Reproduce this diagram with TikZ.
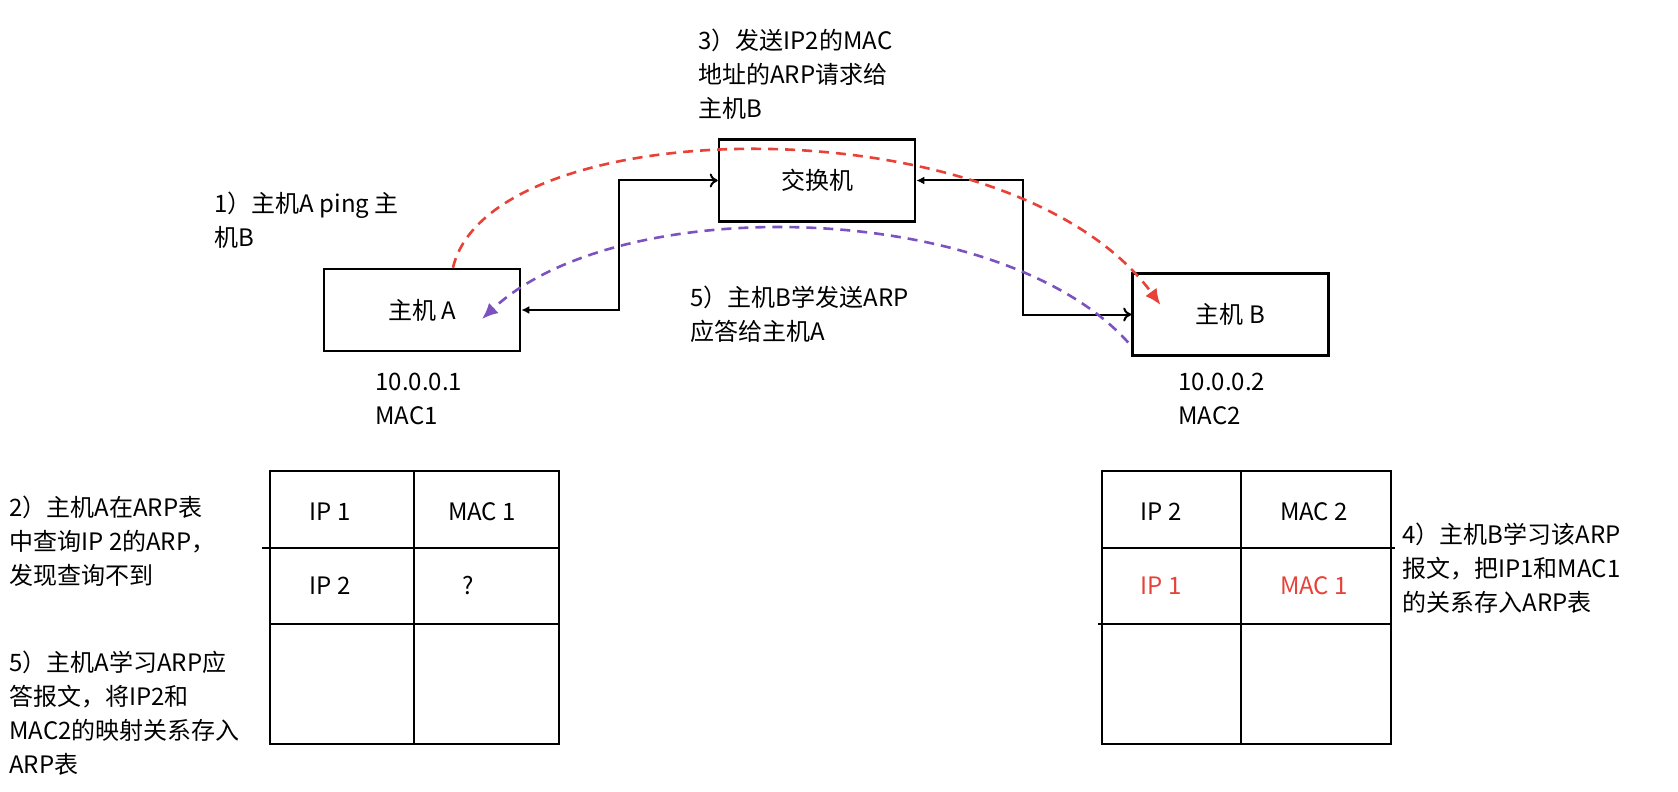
\documentclass[tikz,border=0pt]{standalone}
\usepackage{fontspec}
\setmainfont{Noto Sans CJK SC}
\usetikzlibrary{arrows.meta,positioning}
\definecolor{reqred}{RGB}{232,66,56}
\definecolor{replypurple}{RGB}{124,82,192}

\begin{document}
\begin{tikzpicture}[x=0.5pt,y=-0.5pt,
    host/.style={draw, line width=1.3pt, minimum width=98pt, minimum height=41pt, inner sep=0pt, font=\fontsize{12}{14}\selectfont},
    note/.style={anchor=north west, align=left, inner sep=0pt, font=\fontsize{12}{17}\selectfont},
    cell/.style={font=\fontsize{12}{14}\selectfont},
    tbl/.style={line width=1.2pt},
    link/.style={line width=1pt},
    msg/.style={line width=1.3pt, dash pattern=on 5pt off 3.5pt}]
    \useasboundingbox (0,0) rectangle (1678,792);

    % hosts and switch
    \node[host] (sw) at (817,180.5) {交换机};
    \node[host] (hostA) at (422,310) {主机 A};
    \node[host] (hostB) at (1230.5,314.5) {主机 B};

    % notes
    \node[note] (step3) at (698,29) {3）发送IP2的MAC\\地址的ARP请求给\\主机B};
    \node[note] (step1) at (214,192) {1）主机A ping 主\\机B};
    \node[note] (step5b) at (690,286) {5）主机B学发送ARP\\应答给主机A};
    \node[note] (addrA) at (375,373) {10.0.0.1\\MAC1};
    \node[note] (addrB) at (1178,373) {10.0.0.2\\MAC2};
    \node[note] (step2) at (9,496) {2）主机A在ARP表\\中查询IP 2的ARP，\\发现查询不到};
    \node[note] (step5a) at (9,651) {5）主机A学习ARP应\\答报文，将IP2和\\MAC2的映射关系存入\\ARP表};
    \node[note] (step4) at (1402,523) {4）主机B学习该ARP\\报文，把IP1和MAC1\\的关系存入ARP表};

    % wires
    \draw[link, {Latex[length=4pt,width=4pt]}-{To[length=4pt,width=7pt]}] (hostA.east) -- ++(98,0) |- (sw.west);
    \draw[link, {Latex[length=4pt,width=4pt]}-{To[length=4pt,width=7pt]}] (sw.east) -- ++(107,0) |- (hostB.west);

    % ARP request and reply
    \draw[msg, reqred, -{Latex[length=8pt,width=7pt]}] ([xshift=15.5pt]hostA.north) .. controls (490,110) and (1010,100) .. ([xshift=-35pt,yshift=4.75pt]hostB.center);
    \draw[msg, replypurple, -{Latex[length=8pt,width=7pt]}] ([xshift=-1.5pt,yshift=-14pt]hostB.west) .. controls (1000,200) and (620,190) .. ([xshift=30pt,yshift=-4.5pt]hostA.center);

    % ARP table of host A
    \draw[tbl] (270,471) rectangle (559,744);
    \draw[tbl] (262,548) -- (559,548);
    \draw[tbl] (270,624) -- (559,624);
    \draw[tbl] (414,471) -- (414,744);
    \node[cell] (a11) at (330,512) {IP 1};
    \node[cell] (a12) at (482,512) {MAC 1};
    \node[cell] (a21) at (330,586) {IP 2};
    \node[cell] (a22) at (468,586) {?};

    % ARP table of host B
    \draw[tbl] (1102,471) rectangle (1391,744);
    \draw[tbl] (1102,548) -- (1395,548);
    \draw[tbl] (1098,624) -- (1391,624);
    \draw[tbl] (1241,471) -- (1241,744);
    \node[cell] (b11) at (1161,512) {IP 2};
    \node[cell] (b12) at (1314,512) {MAC 2};
    \node[cell, text=reqred] (b21) at (1161,586) {IP 1};
    \node[cell, text=reqred] (b22) at (1314,586) {MAC 1};
\end{tikzpicture}
\end{document}
